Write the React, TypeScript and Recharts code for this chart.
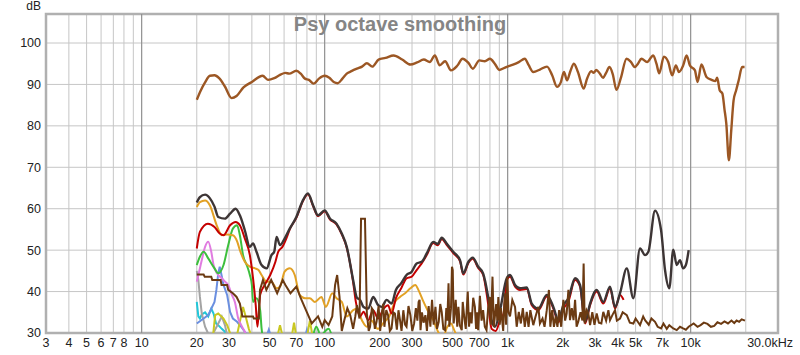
import React from "react";
import {
  LineChart,
  Line,
  XAxis,
  YAxis,
  CartesianGrid,
  ReferenceLine,
  ReferenceArea,
} from "recharts";

// [frequency Hz, level dB]
const MAIN: [number, number][] = [
  [20, 86.3], [21, 88.5], [22.2, 90.5], [23.6, 92.1], [25, 92.2], [26.5, 91.5], [28.5, 89.5], [31, 86.7],
  [33, 87.2], [36, 89.3], [40, 90.6], [45.8, 92.1], [49, 91.1], [53, 91.5], [57, 92.3], [61, 92.8],
  [64, 92.6], [70, 93.3], [74, 92.6], [78, 91.4], [82, 91.1], [87, 90.2], [93, 91.4], [100, 92.1],
  [106, 91.6], [112, 90.6], [118, 90.3], [125, 91.4], [132, 92.6], [140, 93.2], [150, 93.8], [160, 94.3],
  [170, 95.1], [182, 94.3], [197, 96], [215, 96.4], [238, 97], [265, 96], [294, 94.8], [320, 95.3],
  [348, 96], [375, 95.4], [400, 97], [425, 94.6], [455, 95.6], [490, 93.4], [530, 94.5], [567, 96.2],
  [610, 95.2], [645, 93.8], [700, 95.8], [750, 95.6], [800, 96.2], [850, 95], [900, 93.5], [980, 94.2],
  [1070, 94.8], [1150, 95.4], [1240, 96.2], [1300, 94.7], [1380, 93], [1500, 93.6], [1640, 94.3], [1750, 92.2],
  [1860, 89.4], [1950, 90.5], [2030, 93], [2110, 91], [2200, 93.2], [2300, 95], [2420, 93], [2600, 89],
  [2720, 91.5], [2860, 93.2], [2950, 92.8], [3050, 93.5], [3180, 92.7], [3320, 91.6], [3450, 92.8], [3600, 94.2],
  [3750, 92.5], [3930, 88.7], [4150, 91.5], [4460, 96.2], [4700, 95.5], [4950, 94.2], [5150, 95], [5380, 96.2],
  [5780, 95.4], [6240, 97], [6500, 95], [6730, 92.7], [7140, 96.7], [7540, 95.4], [7920, 92.2], [8300, 94.6],
  [8620, 93], [9100, 94.6], [9500, 97], [9900, 94.6], [10550, 93.4], [10900, 90.6], [11450, 94.8], [12200, 91.8],
  [13000, 91.1], [13660, 90.8], [13950, 91.6], [14400, 88.6], [14900, 87.8], [15300, 84], [15650, 80.6], [16170, 71.7],
  [16660, 78.9], [17150, 86.1], [17720, 88.6], [18300, 91], [19100, 94.2], [19700, 94.2],
];

const CHARCOAL: [number, number][] = [
  [20, 61.5], [20.8, 62.8], [22.2, 63.4], [23.6, 62.5], [25, 60.5], [26.2, 58], [28.5, 57.6], [30.4, 58.8],
  [32.6, 60], [34.4, 58.4], [36.6, 54.8], [39, 50.8], [40.6, 51.6], [42.4, 49.6], [45.2, 46.4], [48.2, 45.6],
  [51.2, 48.8], [53, 49.6], [54.6, 53.2], [57, 51.2], [60.4, 52.8], [64.4, 55.2], [70, 58], [76, 62],
  [81, 63.7], [86.5, 60.8], [92, 58.4], [100, 59.6], [107, 57.6], [116, 56.4], [124, 54], [132, 50.8],
  [143, 42.8], [150, 38.5], [156, 38], [163, 36.3], [173, 35.9], [184, 38.7], [196, 36.7], [205, 36.3],
  [218, 38], [232, 37.1], [245, 40.4], [262, 42], [280, 44], [299, 44.8], [318, 46.8], [339, 47.2],
  [361, 49.2], [392, 52], [415, 51.5], [436, 53], [464, 51.6], [504, 49.6], [549, 47.6], [572, 44.4],
  [610, 47.2], [644, 48.2], [690, 46], [734, 44.4], [782, 38.7], [817, 33.1], [852, 31.5], [908, 35.5],
  [988, 43.2], [1030, 44], [1097, 41.6], [1168, 40.8], [1271, 41], [1354, 37.1], [1471, 35.9], [1635, 39.2],
  [1776, 36.3], [1893, 33.1], [2015, 36.7], [2147, 38.4], [2335, 43.2], [2485, 41.6], [2648, 32.7], [2820, 37.1],
  [3065, 40.4], [3330, 37.5], [3623, 41.2], [3860, 36.3], [4110, 39.6], [4475, 45.6], [4860, 38.4], [5287, 50.4],
  [5630, 48.8], [5870, 49.6], [6385, 59.5], [6890, 54.8], [7240, 45.2], [7640, 40.8], [8030, 50.1], [8390, 46.4],
  [8740, 47.6], [9090, 45.6], [9410, 46.4], [9750, 50],
];

const RED: [number, number][] = [
  [20, 50.4], [20.8, 54.4], [23, 56.4], [25, 55.6], [26.7, 54], [28, 53.6], [30.4, 56], [32.6, 56.8],
  [34.4, 56], [36.6, 52.8], [39, 48.8], [40.6, 43.2], [42, 36.7], [42.9, 31.5], [44.4, 39.2], [47, 41.6],
  [50.4, 44], [53.8, 47.2], [55.7, 49.6], [58.8, 50.8], [62, 53], [64.4, 55], [70, 57.8], [76, 61.8],
  [81, 63.5], [86.5, 60.6], [92, 58.2], [100, 59.4], [107, 57.4], [116, 56.2], [124, 53.8], [132, 50.6],
  [143, 42.3], [148, 37.5], [156, 34], [163, 35.1], [173, 33.1], [184, 35.5], [196, 33.5], [210, 35.9],
  [222, 36.7], [232, 34.7], [245, 38.4], [262, 40.8], [280, 43.2], [299, 43.6], [318, 45.2], [339, 46.8],
  [361, 48.8], [392, 51.7], [415, 51.2], [436, 52.7], [464, 51.3], [504, 49.3], [549, 47.3], [572, 44.1],
  [610, 46.9], [644, 47.9], [690, 45.7], [734, 44.1], [782, 37], [817, 31], [860, 30.5], [908, 33.1], [950, 34.7],
  [988, 42.8], [1030, 43.6], [1097, 41.2], [1168, 40.4], [1271, 40.6], [1354, 36.7], [1471, 35.5], [1635, 38.8],
  [1776, 35.9], [1893, 32.6], [2015, 35.8], [2147, 37.6], [2335, 42.8], [2485, 41.2], [2648, 32.3], [2820, 36.7],
  [3065, 40], [3330, 37.1], [3623, 40.8], [3860, 35.9], [4110, 39.2], [4300, 38],
];

const ORANGE: [number, number][] = [
  [20, 60.4], [20.8, 61.6], [22.2, 62], [23.6, 60.8], [25.7, 56], [27.4, 53.6], [29.3, 53.8], [31.5, 53.6],
  [33.3, 52], [34.4, 50], [36.6, 47.2], [39, 46], [41.7, 45.6], [43.5, 45.2], [45.2, 44], [48.2, 42.4],
  [51.2, 42.4], [54.6, 40.8], [57, 41.2], [60.4, 44.8], [64.4, 45.6], [68.6, 44], [73, 39.2], [78, 38.4],
  [83, 38.4], [88.5, 37.5], [96, 38.7], [101.5, 36.3], [110, 39.6], [116, 38.4], [124, 37.5], [132, 34],
  [143, 35.5], [150, 35.9], [160, 33], [170, 31.5], [180, 33], [195, 31], [210, 32.5], [225, 34],
  [242, 37.5], [258, 38.7], [275, 39.6], [294, 40.8], [313, 41.6], [325, 40.4], [343, 38], [365, 35.5],
  [392, 33.1], [420, 30], [445, 29], [464, 31.2], [490, 32.3], [510, 30.7], [530, 29],
];

const GREEN: [number, number][] = [
  [20, 46.4], [20.8, 48.4], [21.8, 49.6], [23.1, 48], [25, 45.6], [26.2, 44.4], [28, 46.4], [29.7, 51.2],
  [31.5, 55.2], [33.2, 56], [34.4, 53.6], [35.8, 48.8], [37.8, 46], [39, 44], [40, 41.6], [40.6, 37.5],
  [42.4, 38.4], [44.4, 35.5], [45.2, 31.1], [46, 29], [85, 29], [90, 31.5], [95, 29.5], [105, 31], [110, 29],
];

const PINK: [number, number][] = [
  [20, 42.4], [20.4, 44], [21.3, 47.6], [22.2, 50.8], [23.1, 52], [24, 49.6], [24.7, 46.4], [25.8, 44.4],
  [27.4, 43.2], [28.5, 42.4], [29.7, 41.6], [31.1, 39.2], [32.3, 37.5], [33.7, 33.5], [35, 31.9], [36.6, 30.3], [38, 29],
];

const GREY: [number, number][] = [
  [20, 45], [20.4, 42.8], [20.8, 38.7], [21.3, 34.7], [22.2, 31.5], [23, 30], [24, 29], [26, 32],
  [27.4, 34], [28.5, 31.9], [29.5, 29],
];

const BLUE: [number, number][] = [
  [20, 32.3], [21.8, 33.5], [23.1, 34.3], [25, 37.5], [25.6, 40.4], [26.2, 44.4], [26.7, 46], [27.3, 44],
  [28, 41.6], [29.3, 39.2], [30.4, 35.1], [31.5, 33.5], [33.2, 32.7], [35, 31.5], [37, 30], [40, 29],
  [48, 29], [49.5, 30.8], [51, 29], [78, 29], [80, 30.8], [82, 29],
];

const CYAN: [number, number][] = [
  [20, 37.5], [20.4, 34], [20.8, 33.5], [21.3, 34.5], [22.2, 35], [23.1, 34], [24, 35.9], [24.7, 34.7],
  [25.5, 32.3], [26.2, 31.9], [27.4, 31], [28.5, 30.3], [30, 29],
];

const YELLOW: [number, number][] = [
  [24.5, 29], [25.2, 34.3], [26.2, 34.7], [28, 33.5], [29.3, 31.9], [31, 29], [33, 29], [34.5, 33],
  [35.8, 36.3], [37, 34], [38.5, 31], [40, 29], [55, 29], [57, 31.9], [59, 29], [66, 29],
  [68, 32.5], [70, 29], [80, 29], [83, 33], [86, 29],
];

const NOISE: [number, number][] = [
  [20, 44.1], [21.8, 44.1], [22.1, 43.6], [24, 43.6], [24.3, 42.8], [27, 42.8], [27.3, 41.6], [29.3, 41.6],
  [29.7, 40.4], [31.5, 39.6], [33, 38.7], [34.4, 37.1], [35.5, 34], [40.6, 34], [41, 33.5], [43.7, 33.5],
  [44.3, 40.4], [46, 42.8], [48, 40.4], [51, 42.8], [55, 39.6], [59, 42.8], [61, 41.6], [65, 39.6],
  [70, 41.2], [74, 38.4], [79, 35.5], [85, 32.3], [92, 34], [97, 31.5], [100, 33.1], [105, 31.9],
  [110, 34], [114, 41.6], [117, 44], [120.5, 38.7], [124, 30.5], [128, 33.1], [133, 36], [138, 34.3],
  [143, 31], [147, 34], [150, 36.7], [155, 33.5], [158, 57.6], [166, 57.6], [170, 34.7], [174, 30.5],
  [177, 31.5], [181, 36], [184, 35.5], [188, 31], [192, 32.7], [197, 36.5], [201, 30.5], [205, 34.7],
  [209, 37], [212, 31.5], [217, 35.5], [222, 34.3], [227, 30.5], [232, 31.1], [237, 35], [242, 34.7],
  [248, 30.8], [253, 35.5], [258, 33.1], [263, 30.5], [269, 35.5], [275, 32], [280, 31.5], [287, 36.5],
  [294, 34.3], [301, 30.5], [308, 32.3], [315, 36], [321, 33], [326, 37.5], [330, 38], [334, 30.7],
  [340, 35], [347, 32.5], [355, 34.3], [362, 30.5], [370, 36.5], [378, 31.5], [386, 38], [394, 32],
  [403, 36.3], [411, 31], [420, 32.7], [428, 37], [436, 35.1], [445, 31], [455, 30.7], [462, 36],
  [468, 33], [475, 42], [480, 31.5], [490, 36], [496, 46], [501, 45.2], [507, 32.3], [520, 38],
  [530, 31.5], [538, 36.3], [548, 31.8], [561, 30.7], [568, 37.5], [580, 33.5], [590, 31], [597, 35.5],
  [605, 40], [615, 31.5], [625, 35], [635, 32.3], [648, 38.5], [662, 36.3], [672, 31], [680, 35],
  [690, 30.7], [705, 39], [720, 33], [734, 35.5], [750, 31.5], [766, 30.7], [782, 36], [798, 38.7],
  [810, 32], [826, 43.6], [840, 31.5], [865, 37], [878, 33], [889, 38.7], [905, 32], [918, 36],
  [928, 34], [945, 30.5], [958, 37], [968, 39.6], [980, 32], [996, 43.6], [1010, 35], [1030, 34],
  [1060, 38], [1097, 36.3], [1120, 31.5], [1150, 35.1], [1180, 32.3], [1210, 36], [1240, 31.5], [1271, 35.1],
  [1300, 31.5], [1330, 35.5], [1380, 31.9], [1420, 34], [1471, 36.3], [1500, 32.3], [1550, 33.5], [1590, 31.5],
  [1635, 35.5], [1680, 40.4], [1710, 31.5], [1750, 35.5], [1790, 31.5], [1830, 34], [1870, 31.5], [1910, 35.5],
  [1960, 31.5], [2015, 38], [2060, 33], [2100, 34.7], [2147, 40.4], [2190, 33.1], [2240, 36], [2290, 33.1],
  [2335, 38], [2380, 31.5], [2430, 32.7], [2500, 35], [2560, 33], [2600, 46.8], [2635, 32.3], [2700, 35.5],
  [2760, 34.7], [2820, 31.9], [2900, 35], [2980, 32], [3065, 34.7], [3150, 32.5], [3250, 32.3], [3330, 35.1],
  [3450, 33], [3550, 35.5], [3623, 33.1], [3750, 34.5], [3860, 35.5], [3950, 33], [4110, 33.5], [4250, 35],
  [4475, 34.3], [4650, 32.5], [4860, 32.3], [5000, 33.5], [5287, 31.9], [5500, 34], [5630, 33.1], [5900, 32],
  [6100, 33.5], [6385, 32.7], [6600, 31.5], [6890, 31.1], [7100, 32.3], [7400, 31], [7640, 31.9], [8030, 31.1],
  [8390, 30.7], [8740, 31.5], [9090, 31.1], [9410, 30.8], [9750, 31.5], [10380, 32.3], [10900, 31.5], [11330, 31.9],
  [11800, 32.5], [12350, 32.2], [12900, 31.5], [13450, 31.7], [14000, 32.6], [14660, 32.2], [15300, 32.8], [15990, 32.3],
  [16700, 33], [17300, 32.4], [17830, 33], [18400, 32.7], [19010, 33.3], [19800, 33],
];

const X_LABEL_VALUES = [3, 4, 5, 6, 7, 8, 10, 20, 30, 50, 70, 100, 200, 300, 500, 700, 1000, 2000, 3000, 4000, 5000, 7000, 10000, 30000];
const X_LABELS = ["3", "4", "5", "6", "7", "8", "10", "20", "30", "50", "70", "100", "200", "300", "500", "700", "1k", "2k", "3k", "4k", "5k", "7k", "10k", "30.0kHz"];
const Y_TICKS = [30, 40, 50, 60, 70, 80, 90, 100];
const DECADES = [10, 100, 1000, 10000];

// grid lines at every 1..9 multiple within 3 Hz - 30 kHz
const GRID_X = [1, 10, 100, 1000, 10000]
  .flatMap((d) => [1, 2, 3, 4, 5, 6, 7, 8, 9].map((m) => m * d))
  .filter((v) => v >= 3 && v <= 30000);

const SERIES: { name: string; data: [number, number][]; color: string; width: number; type: "monotone" | "linear" }[] = [
  { name: "cyan", data: CYAN, color: "#22c6d8", width: 2, type: "linear" },
  { name: "grey", data: GREY, color: "#a4a4a4", width: 2, type: "linear" },
  { name: "blue", data: BLUE, color: "#6b8fe0", width: 2, type: "linear" },
  { name: "yellow", data: YELLOW, color: "#c9c722", width: 2, type: "linear" },
  { name: "pink", data: PINK, color: "#e07ce0", width: 2, type: "monotone" },
  { name: "green", data: GREEN, color: "#3dbf3d", width: 2, type: "monotone" },
  { name: "orange", data: ORANGE, color: "#e2a125", width: 2, type: "monotone" },
  { name: "red", data: RED, color: "#c40000", width: 2, type: "monotone" },
  { name: "charcoal", data: CHARCOAL, color: "#3d3535", width: 2.4, type: "monotone" },
  { name: "noise", data: NOISE, color: "#6b3a12", width: 2, type: "linear" },
  { name: "main", data: MAIN, color: "#9c5724", width: 2.4, type: "monotone" },
];

const FONT = "'Liberation Sans', Arial, sans-serif";

const XTick = (props: any) => {
  const { x, y, payload } = props;
  const i = X_LABEL_VALUES.indexOf(payload.value);
  if (i < 0) return <g />;
  const last = i === X_LABEL_VALUES.length - 1;
  return (
    <text
      x={last ? x + 15 : x}
      y={y}
      dy="0.71em"
      textAnchor={last ? "end" : "middle"}
      fontSize={12.5}
      fontFamily={FONT}
      fill="#222"
    >
      {X_LABELS[i]}
    </text>
  );
};

export default function App() {
  return (
    <div style={{ position: "absolute", left: 0, top: 0, width: 800, height: 355, background: "#fff" }}>
      <div
        style={{
          position: "absolute",
          left: 0,
          top: 13,
          width: 800,
          textAlign: "center",
          fontFamily: FONT,
          fontWeight: "bold",
          fontSize: 20,
          color: "#858585",
          zIndex: 2,
          pointerEvents: "none",
        }}
      >
        Psy octave smoothing
      </div>
      <div
        style={{
          position: "absolute",
          left: 0,
          top: 0,
          width: 41,
          textAlign: "right",
          fontFamily: FONT,
          fontSize: 12,
          lineHeight: "12px",
          color: "#222",
        }}
      >
        dB
      </div>
      <LineChart width={800} height={355} margin={{ top: 14, right: 22, bottom: 0, left: 0 }}>
        <CartesianGrid stroke="#c6c6c6" strokeWidth={1} />
        <XAxis
          dataKey="f"
          type="number"
          scale="log"
          domain={[3, 30000]}
          ticks={GRID_X}
          tick={<XTick />}
          tickLine={false}
          axisLine={false}
          tickSize={3}
          height={22}
          allowDataOverflow
          interval={0}
        />
        <YAxis
          dataKey="v"
          type="number"
          domain={[30, 107]}
          ticks={Y_TICKS}
          tickLine={false}
          axisLine={false}
          tickSize={3}
          width={46}
          allowDataOverflow
          tick={{ fontSize: 12.5, fontFamily: FONT, fill: "#222" }}
        />
        {DECADES.map((d) => (
          <ReferenceLine key={d} x={d} stroke="#8a8a8a" strokeWidth={1} />
        ))}
        {SERIES.map((s) => (
          <Line
            key={s.name}
            data={s.data.map(([f, v]) => ({ f, v }))}
            dataKey="v"
            type={s.type}
            stroke={s.color}
            strokeWidth={s.width}
            dot={false}
            activeDot={false}
            isAnimationActive={false}
          />
        ))}
        <ReferenceArea x1={3} x2={30000} y1={30} y2={107} fill="none" stroke="#b0b0b0" strokeWidth={2.5} />
      </LineChart>
    </div>
  );
}
